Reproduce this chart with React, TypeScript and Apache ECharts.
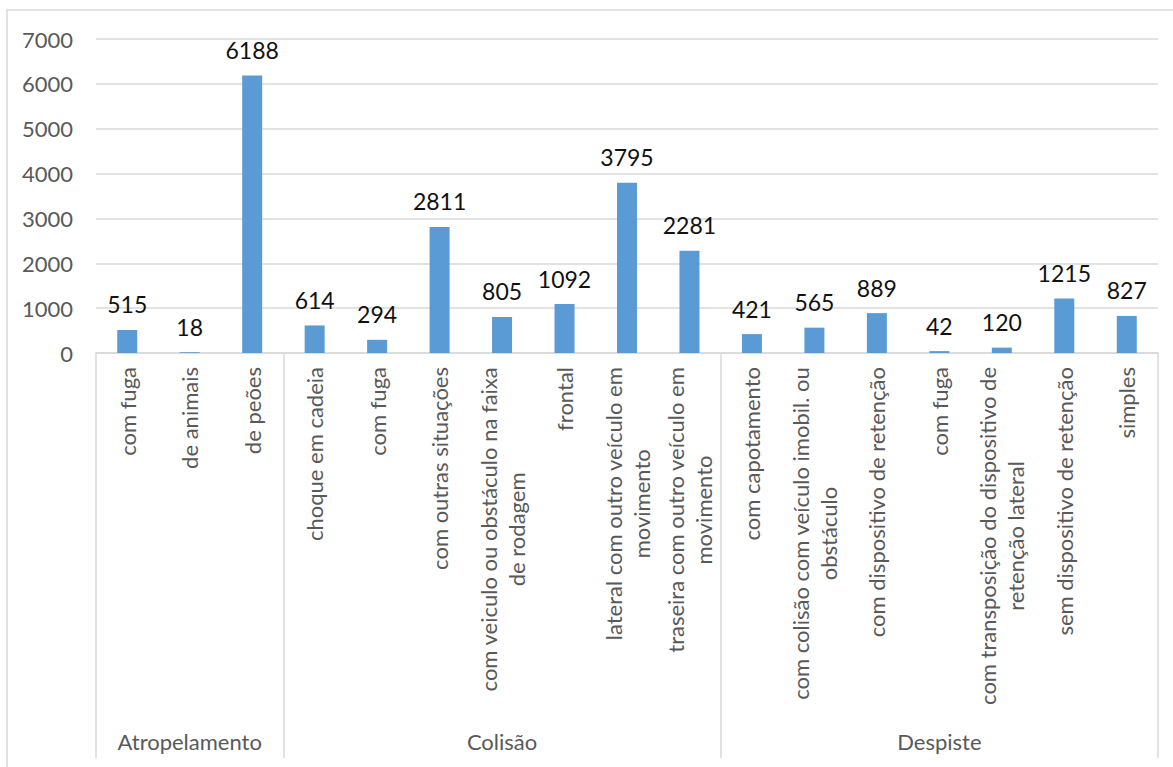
import React, { useEffect, useRef } from "react";
import * as echarts from "echarts";

const categories = [
  "com fuga",
  "de animais",
  "de peões",
  "choque em cadeia",
  "com fuga",
  "com outras situações",
  "com veiculo ou obstáculo na faixa\nde rodagem",
  "frontal",
  "lateral com outro veículo em\nmovimento",
  "traseira com outro veículo em\nmovimento",
  "com capotamento",
  "com colisão com veículo imobil. ou\nobstáculo",
  "com dispositivo de retenção",
  "com fuga",
  "com transposição do dispositivo de\nretenção lateral",
  "sem dispositivo de retenção",
  "simples",
];

const groupOf = [
  "Atropelamento", "Atropelamento", "Atropelamento",
  "Colisão", "Colisão", "Colisão", "Colisão", "Colisão", "Colisão", "Colisão",
  "Despiste", "Despiste", "Despiste", "Despiste", "Despiste", "Despiste", "Despiste",
];

const values = [515, 18, 6188, 614, 294, 2811, 805, 1092, 3795, 2281, 421, 565, 889, 42, 120, 1215, 827];

const yMin = 0;
const yMax = 7000;
const yInterval = 1000;

const FONT = "Lato, 'Open Sans', sans-serif";
const GRAY = "#595959";
const LINE = "#D9D9D9";

export default function App() {
  const ref = useRef<HTMLDivElement>(null);

  useEffect(() => {
    document.body.style.margin = "0";
    if (!ref.current) return;
    const chart = echarts.init(ref.current, undefined, { renderer: "svg" });

    const boundaries = new Set<number>();
    const groupIdx: Record<string, number[]> = {};
    groupOf.forEach((g, i) => {
      if (i === 0 || groupOf[i - 1] !== g) boundaries.add(i);
      (groupIdx[g] = groupIdx[g] || []).push(i);
    });
    const middles = new Map<number, string>();
    Object.keys(groupIdx).forEach((g) => {
      const arr = groupIdx[g];
      middles.set(arr[Math.floor(arr.length / 2)], g);
    });

    chart.setOption({
      animation: false,
      backgroundColor: "#fff",
      grid: { left: 96, right: 15, top: 39, bottom: 414, containLabel: false },
      graphic: [
        {
          type: "rect",
          silent: true,
          shape: { x: 7, y: 10, width: 1200, height: 800 },
          style: { fill: "none", stroke: LINE, lineWidth: 1.5 },
        },
      ],
      xAxis: [
        {
          type: "category",
          data: categories,
          position: "bottom",
          axisLine: { show: true, lineStyle: { color: LINE, width: 1.5 } },
          axisTick: {
            show: true,
            length: 405,
            interval: (i: number) => boundaries.has(i),
            lineStyle: { color: LINE, width: 1.5 },
          },
          axisLabel: {
            interval: 0,
            rotate: 90,
            margin: 14,
            color: GRAY,
            fontFamily: FONT,
            fontSize: 22,
            lineHeight: 28,
            formatter: (v: string) =>
              v
                .split("\n")
                .map((l) => `{c|${l}}`)
                .join("\n"),
            rich: {
              c: { align: "center", color: GRAY, fontFamily: FONT, fontSize: 22, lineHeight: 28 },
            },
          },
        },
        {
          type: "category",
          data: categories,
          position: "bottom",
          axisLine: { show: false },
          axisTick: { show: false },
          axisLabel: {
            interval: 0,
            margin: 377,
            color: GRAY,
            fontFamily: FONT,
            fontSize: 22,
            formatter: (_v: string, i: number) => middles.get(i) || "",
          },
        },
      ],
      yAxis: {
        type: "value",
        min: yMin,
        max: yMax,
        interval: yInterval,
        axisLine: { show: false },
        axisTick: { show: false },
        axisLabel: {
          color: GRAY,
          fontFamily: FONT,
          fontSize: 22,
          margin: 23,
          formatter: (v: number) => String(v),
        },
        splitLine: { lineStyle: { color: LINE, width: 1.5 } },
      },
      series: [
        {
          type: "bar",
          data: values,
          barWidth: "32%",
          itemStyle: { color: "#5B9BD5" },
          label: {
            show: true,
            position: "top",
            distance: 14,
            color: "#111",
            fontFamily: FONT,
            fontSize: 23,
          },
        },
      ],
    });

    return () => chart.dispose();
  }, []);

  return <div ref={ref} style={{ width: 1173, height: 767 }} />;
}
